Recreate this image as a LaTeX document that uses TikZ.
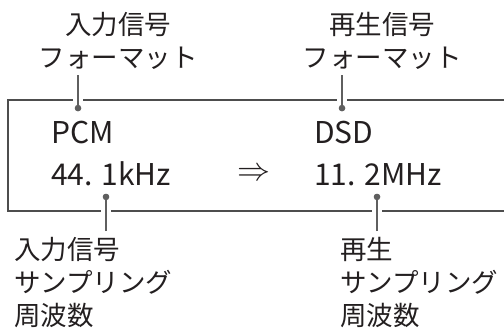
\documentclass[tikz,border=0pt]{standalone}
\usepackage{fontspec}
\usepackage{graphicx}
\setmainfont{Noto Sans CJK JP}
\definecolor{txt}{HTML}{231F20}
\definecolor{boxc}{HTML}{4D4D4D}
\definecolor{lead}{HTML}{5F5F5F}
\tikzset{
  jp/.style={inner sep=0pt, text=txt, font=\fontsize{26.5bp}{33bp}\selectfont},
  lat/.style={inner sep=0pt, text=txt, font=\fontsize{30bp}{30bp}\selectfont, anchor=base west},
  frame/.style={draw=boxc, line width=1.2bp},
  leader/.style={draw=lead, line width=2.6bp, preaction={draw=white, line width=10bp}},
  pin/.style={circle, fill=lead, inner sep=0pt, minimum size=6.5bp},
}
\begin{document}
\begin{tikzpicture}[x=1bp,y=-1bp]
\useasboundingbox (0,0) rectangle (504,327);
\draw[frame] (504,100) -- (8,100) -- (8,211) -- (504,211);
% texts
\node[jp, align=center, anchor=base] (infmt) at (118,67) {入力信号\\フォーマット};
\node[jp, align=center, anchor=base] (outfmt) at (382,67) {再生信号\\フォーマット};
\node[lat] (pcm) at (51,143) {PCM};
\node[lat] (f1) at (51,185) {44. 1kHz};
\node[lat] (dsd) at (314,143) {DSD};
\node[lat] (f2) at (314,185) {11. 2MHz};
\node[inner sep=0pt, text=txt] (arr) at (253.5,174) {\resizebox{33bp}{!}{$\Rightarrow$}};
\node[jp, align=left, anchor=base west] (insr) at (14,325) {入力信号\\サンプリング\\周波数};
\node[jp, align=left, anchor=base west] (outsr) at (340,325) {再生\\サンプリング\\周波数};
% leaders
\coordinate (tlA) at (78,75);
\coordinate (trA) at (342,75);
\coordinate (blA) at (106,231);
\coordinate (brA) at (377,231);
\node[pin] (tlD) at (78,108) {};
\node[pin] (trD) at (342,108) {};
\node[pin] (blD) at (106,197) {};
\node[pin] (brD) at (377,197) {};
\draw[leader] (tlA) -- (tlD.center);
\draw[leader] (trA) -- (trD.center);
\draw[leader] (blA) -- (blD.center);
\draw[leader] (brA) -- (brD.center);
\node[pin] at (tlD) {};
\node[pin] at (trD) {};
\node[pin] at (blD) {};
\node[pin] at (brD) {};
\end{tikzpicture}
\end{document}
